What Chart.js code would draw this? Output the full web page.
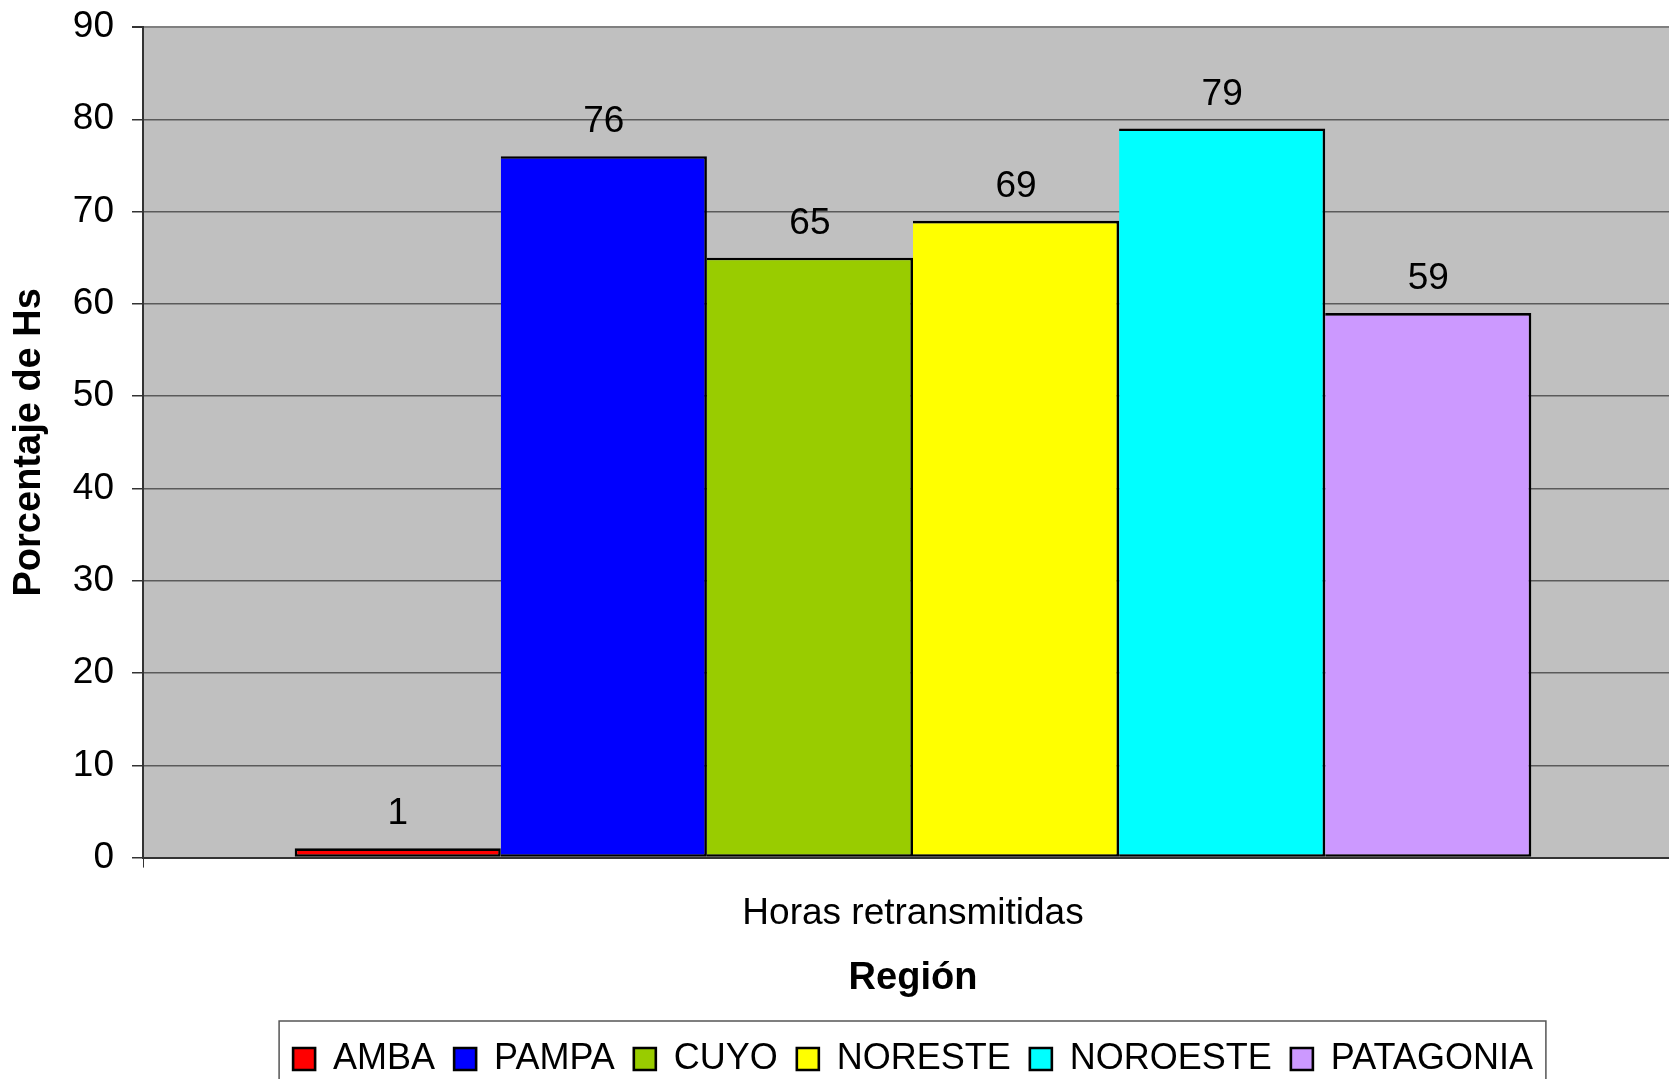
<!DOCTYPE html>
<html>
<head>
<meta charset="utf-8">
<script src="https://cdn.jsdelivr.net/npm/chart.js@4"></script>
<style>
  html, body { margin: 0; padding: 0; background: #fff; overflow: hidden; }
  #caja { position: absolute; left: 0; top: 0; width: 1683px; height: 1079px; }
</style>
</head>
<body>
<div id="caja"><canvas id="grafico" width="1683" height="1079"></canvas></div>
<script>
// Datos
const categorias = ["Horas retransmitidas"];
const regiones = ["AMBA", "PAMPA", "CUYO", "NORESTE", "NOROESTE", "PATAGONIA"];
const valores = [1, 76, 65, 69, 79, 59];
const colores = ["#ff0000", "#0000ff", "#99cc00", "#ffff00", "#00ffff", "#cc99ff"];
const ticksY = [0, 10, 20, 30, 40, 50, 60, 70, 80, 90];

const FUENTE = "'Liberation Sans', Arial, Helvetica, sans-serif";

// Fondo gris del área de trazado
const fondoGris = {
  id: "fondoGris",
  beforeDraw(chart) {
    const a = chart.chartArea, ctx = chart.ctx;
    ctx.save();
    ctx.fillStyle = "#c0c0c0";
    ctx.fillRect(a.left, a.top, a.right - a.left, a.bottom - a.top);
    ctx.restore();
  }
};

// Etiquetas de valor encima de cada barra
const etiquetas = {
  id: "etiquetas",
  afterDatasetsDraw(chart) {
    const ctx = chart.ctx;
    ctx.save();
    ctx.font = "37px " + FUENTE;
    ctx.fillStyle = "#000";
    ctx.textAlign = "center";
    ctx.textBaseline = "alphabetic";
    chart.data.datasets.forEach((ds, i) => {
      chart.getDatasetMeta(i).data.forEach((barra, j) => {
        ctx.fillText(ds.data[j], barra.x, barra.y - 24);
      });
    });
    ctx.restore();
  }
};

// Marco alrededor de la leyenda
const marcoLeyenda = {
  id: "marcoLeyenda",
  afterDraw(chart) {
    const cajas = chart.legend.legendHitBoxes;
    if (!cajas || !cajas.length) return;
    const ctx = chart.ctx;
    const izq = cajas[0].left - 14;
    const ult = cajas[cajas.length - 1];
    const der = ult.left + ult.width + 13;
    const arriba = cajas[0].top - 20;
    ctx.save();
    ctx.strokeStyle = "#555";
    ctx.lineWidth = 1.5;
    ctx.strokeRect(izq, arriba, der - izq, 200);
    ctx.restore();
  }
};

new Chart(document.getElementById("grafico"), {
  type: "bar",
  data: {
    labels: categorias,
    datasets: regiones.map((r, i) => ({
      label: r,
      data: [valores[i]],
      backgroundColor: colores[i],
      borderColor: "#000",
      borderWidth: 2.6,
      // las barras contiguas comparten un solo borde
      borderSkipped: i === 0 ? false : "left",
      barPercentage: 1,
      categoryPercentage: 0.803
    }))
  },
  options: {
    responsive: false,
    animation: false,
    devicePixelRatio: 1,
    layout: { padding: { top: 27, right: 0, bottom: -8, left: 0 } },
    plugins: {
      tooltip: { enabled: false },
      legend: {
        position: "bottom",
        fullSize: false,
        labels: {
          font: { family: FUENTE, size: 36 },
          color: "#000",
          boxWidth: 22,
          boxHeight: 22,
          padding: 19
        }
      }
    },
    scales: {
      x: {
        grid: { drawOnChartArea: false, tickLength: 10, color: "#333", offset: true },
        border: { color: "#333", width: 2 },
        ticks: { font: { family: FUENTE, size: 37 }, color: "#000", padding: 24 },
        title: {
          display: true,
          text: "Región",
          font: { family: FUENTE, size: 38, weight: "bold", lineHeight: 1 },
          color: "#000",
          padding: { top: 0, bottom: 24 }
        }
      },
      y: {
        min: 0,
        max: 90,
        afterBuildTicks(scale) { scale.ticks = ticksY.map(v => ({ value: v })); },
        afterFit(scale) {
          scale.width = 143;
          scale.paddingTop = 0;
          scale.paddingBottom = 0;
        },
        grid: {
          color: ctx => (ctx.tick && ctx.tick.value === 90 ? "#808080" : "#5a5a5a"),
          lineWidth: ctx => (ctx.tick && ctx.tick.value === 90 ? 2 : 1.5),
          tickColor: "#333",
          tickLength: 11
        },
        border: { color: "#333", width: 2 },
        ticks: { font: { family: FUENTE, size: 37 }, color: "#000", padding: 18 },
        title: {
          display: true,
          text: "Porcentaje de Hs",
          font: { family: FUENTE, size: 38, weight: "bold" },
          color: "#000",
          padding: { top: 7, bottom: 0 }
        }
      }
    }
  },
  plugins: [fondoGris, etiquetas, marcoLeyenda]
});
</script>
</body>
</html>
